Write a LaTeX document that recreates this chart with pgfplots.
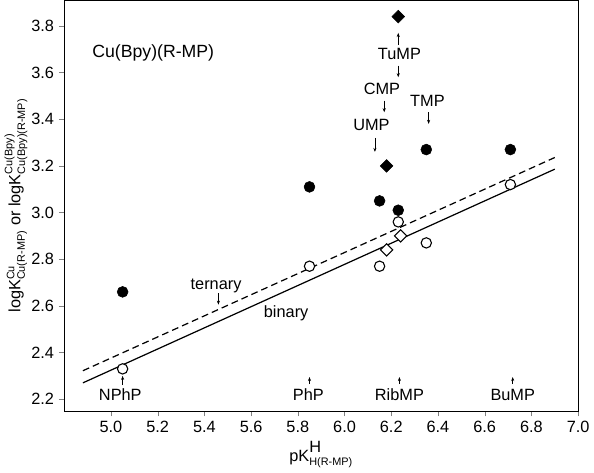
\documentclass[border=0pt]{standalone}
\usepackage{amsmath}
\usepackage{fontspec}
\setmainfont{Liberation Sans}
\usepackage{pgfplots}
\pgfplotsset{compat=1.18}
\usetikzlibrary{arrows.meta}

\begin{document}
\begin{tikzpicture}[font=\fontsize{12}{14}\selectfont]
\begin{axis}[
  scale only axis,
  width=378pt, height=302pt,
  xmin=4.8, xmax=7.0, ymin=2.15, ymax=3.91,
  xtick={5.0,5.2,...,7.0},
  ytick={2.2,2.4,...,3.8},
  xtick pos=bottom, ytick pos=left,
  tick align=outside,
  major tick length=4pt,
  /pgf/number format/assume math mode=true,
  /pgf/number format/.cd, fixed, fixed zerofill, precision=1,
  /pgfplots/.cd,
  xlabel={pK$^{\raisebox{2pt}{\text{H}}}_{\text{H(R-MP)}}$},
  ylabel={logK$^{\text{Cu}}_{\text{Cu(R-MP)}}$ or logK$^{\text{Cu(Bpy)}}_{\text{Cu(Bpy)(R-MP)}}$},
  xlabel style={at={(axis description cs:0.5,0)}, anchor=north, yshift=-19pt},
  ylabel style={yshift=-4pt},
  clip=false,
]
% regression lines
\addplot[black, line width=0.9pt] coordinates {(4.88,2.27) (6.90,3.186)};
\addplot[black, line width=0.9pt, dash pattern=on 5pt off 3pt] coordinates {(4.88,2.322) (6.90,3.236)};

% ternary: filled circles
\addplot[only marks, mark=*, mark size=4pt, black] coordinates {
  (5.05,2.66) (5.85,3.11) (6.15,3.05) (6.23,3.01) (6.35,3.27) (6.71,3.27)};
% ternary: filled diamonds
\addplot[only marks, mark=square*, mark size=3.3pt, black, mark options={rotate=45}] coordinates {
  (6.23,3.84) (6.18,3.20)};
% binary: open circles
\addplot[only marks, mark=*, mark size=3.8pt, black, mark options={fill=white, line width=0.8pt}] coordinates {
  (5.05,2.33) (5.85,2.77) (6.15,2.77) (6.23,2.96) (6.35,2.87) (6.71,3.12)};
% binary: open diamonds
\addplot[only marks, mark=square*, mark size=3.2pt, black, mark options={rotate=45, fill=white, line width=0.8pt}] coordinates {
  (6.18,2.84) (6.24,2.90)};

% annotations
\node[anchor=west] at (axis cs:4.9,3.685) {\fontsize{13}{15}\selectfont Cu(Bpy)(R-MP)};
\node at (axis cs:6.235,3.68) {TuMP};
\draw[-{Stealth[length=3pt]}, thin] (axis cs:6.23,3.72) -- (axis cs:6.23,3.77);
\draw[-{Stealth[length=3pt]}, thin] (axis cs:6.23,3.63) -- (axis cs:6.23,3.58);
\node at (axis cs:6.16,3.53) {CMP};
\draw[-{Stealth[length=3pt]}, thin] (axis cs:6.17,3.48) -- (axis cs:6.17,3.43);
\node at (axis cs:6.115,3.375) {UMP};
\draw[-{Stealth[length=3pt]}, thin] (axis cs:6.13,3.32) -- (axis cs:6.13,3.26);
\node at (axis cs:6.355,3.48) {TMP};
\draw[-{Stealth[length=3pt]}, thin] (axis cs:6.36,3.43) -- (axis cs:6.36,3.38);
\node at (axis cs:5.45,2.685) {ternary};
\draw[-{Stealth[length=3pt]}, thin] (axis cs:5.46,2.655) -- (axis cs:5.46,2.605);
\node at (axis cs:5.75,2.57) {binary};

\node at (axis cs:5.04,2.22) {NPhP};
\draw[-{Stealth[length=3pt]}, thin] (axis cs:5.05,2.26) -- (axis cs:5.05,2.30);
\node at (axis cs:5.845,2.22) {PhP};
\draw[-{Stealth[length=3pt]}, thin] (axis cs:5.85,2.265) -- (axis cs:5.85,2.295);
\node at (axis cs:6.235,2.22) {RibMP};
\draw[-{Stealth[length=3pt]}, thin] (axis cs:6.235,2.265) -- (axis cs:6.235,2.295);
\node at (axis cs:6.72,2.22) {BuMP};
\draw[-{Stealth[length=3pt]}, thin] (axis cs:6.72,2.265) -- (axis cs:6.72,2.295);
\end{axis}
\end{tikzpicture}
\end{document}
